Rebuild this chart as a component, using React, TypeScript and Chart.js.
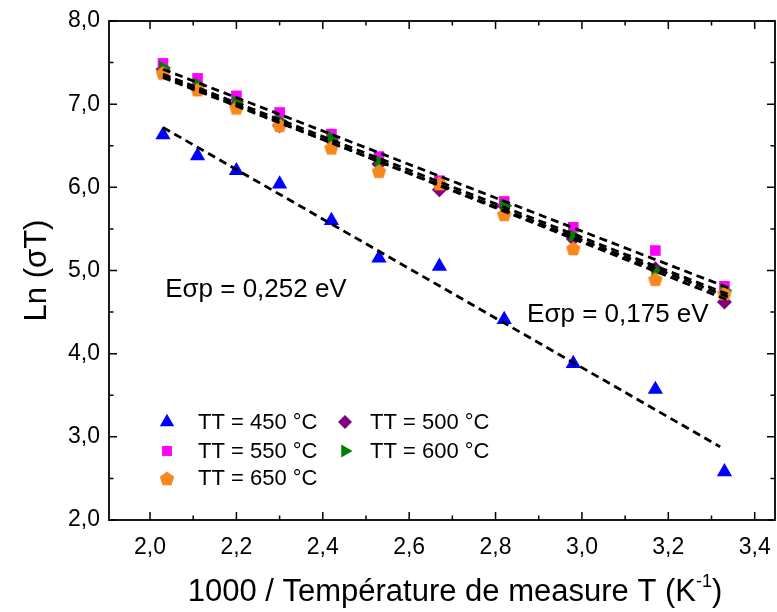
import React, { useEffect, useRef } from 'react';
import { Chart, registerables } from 'chart.js';
import { drawPoint } from 'chart.js/helpers';

Chart.register(...registerables);

// ---- data ----
const xValues = [2.03, 2.11, 2.2, 2.3, 2.42, 2.53, 2.67, 2.82, 2.98, 3.17, 3.33];
const tt450 = [6.63, 6.38, 6.2, 6.04, 5.6, 5.15, 5.05, 4.41, 3.88, 3.57, 2.58];
const tt500 = [7.42, 7.22, 7.0, 6.74, 6.57, 6.28, 5.97, 5.78, 5.38, 5.02, 4.62];
const tt550 = [7.49, 7.31, 7.1, 6.9, 6.64, 6.37, 6.08, 5.83, 5.52, 5.24, 4.81];
const tt600 = [7.44, 7.24, 7.03, 6.8, 6.6, 6.31, 6.04, 5.78, 5.42, 5.0, 4.76];
const tt650 = [7.38, 7.18, 6.96, 6.75, 6.48, 6.2, 6.05, 5.68, 5.27, 4.9, 4.73];

const fitX450 = [2.03, 3.32];
const fit450 = [6.72, 2.88];
const fitX = [2.03, 3.345];
const fit500 = [7.34, 4.63];
const fit550 = [7.42, 4.78];
const fit600 = [7.36, 4.7];
const fit650 = [7.32, 4.67];

const xTickValues = [2.0, 2.2, 2.4, 2.6, 2.8, 3.0, 3.2, 3.4];
const xTickLabels = ['2,0', '2,2', '2,4', '2,6', '2,8', '3,0', '3,2', '3,4'];
const xMinorTicks = [2.1, 2.3, 2.5, 2.7, 2.9, 3.1, 3.3];
const yTickValues = [2, 3, 4, 5, 6, 7, 8];
const yTickLabels = ['2,0', '3,0', '4,0', '5,0', '6,0', '7,0', '8,0'];
const yMinorTicks = [2.5, 3.5, 4.5, 5.5, 6.5, 7.5];

const seriesLabels = ['TT = 450 °C', 'TT = 500 °C', 'TT = 550 °C', 'TT = 600 °C', 'TT = 650 °C'];
const annotTexts = ['Eσp = 0,252 eV', 'Eσp = 0,175 eV'];
const annotX = [2.035, 2.873];
const annotY = [4.77, 4.47];

const xTitle = '1000 / Température de measure T (K';
const xTitleSup = '-1';
const yTitle = 'Ln (σT)';

const FONT = 'Arial, "Liberation Sans", sans-serif';

function makePentagon(color: string, r: number) {
  const c = document.createElement('canvas');
  const s = Math.ceil(r * 2 + 2);
  c.width = s;
  c.height = s;
  const ctx = c.getContext('2d')!;
  ctx.fillStyle = color;
  ctx.beginPath();
  for (let i = 0; i < 5; i++) {
    const a = -Math.PI / 2 + (i * 2 * Math.PI) / 5;
    const px = s / 2 + r * Math.cos(a);
    const py = s / 2 + 1 + r * Math.sin(a);
    if (i === 0) ctx.moveTo(px, py);
    else ctx.lineTo(px, py);
  }
  ctx.closePath();
  ctx.fill();
  return c;
}

const pts = (xs: number[], ys: number[]) => xs.map((x, i) => ({ x, y: ys[i] }));

export default function App() {
  const ref = useRef<HTMLCanvasElement>(null);

  useEffect(() => {
    const pent = makePentagon('#f7881f', 7.6);
    const styles = [
      { label: seriesLabels[0], data: tt450, color: '#0000ff', pointStyle: 'triangle', radius: 8.8, rotation: 0, order: 6 },
      { label: seriesLabels[1], data: tt500, color: '#800080', pointStyle: 'rectRot', radius: 7.5, rotation: 0, order: 5 },
      { label: seriesLabels[2], data: tt550, color: '#ff00ff', pointStyle: 'rect', radius: 7.5, rotation: 0, order: 4 },
      { label: seriesLabels[3], data: tt600, color: '#008000', pointStyle: 'triangle', radius: 8, rotation: 90, order: 3 },
      { label: seriesLabels[4], data: tt650, color: '#f7881f', pointStyle: pent as any, radius: 7.6, rotation: 0, order: 2 },
    ];

    const scatterSets = styles.map((s) => ({
      label: s.label,
      data: pts(xValues, s.data),
      backgroundColor: s.color,
      borderColor: s.color,
      borderWidth: 0,
      pointStyle: s.pointStyle,
      pointRadius: s.radius,
      pointRotation: s.rotation,
      showLine: false,
      order: s.order,
    }));

    const fitLine = (xs: number[], ys: number[]) => ({
      label: 'fit',
      data: pts(xs, ys),
      borderColor: '#000',
      borderWidth: 2.8,
      borderDash: [8, 5],
      pointRadius: 0,
      showLine: true,
      order: 0,
    });

    const fitSets = [
      fitLine(fitX450, fit450),
      fitLine(fitX, fit500),
      fitLine(fitX, fit550),
      fitLine(fitX, fit600),
      fitLine(fitX, fit650),
    ];

    const decor = {
      id: 'decor',
      afterDatasetsDraw(chart: any) {
        const { ctx, chartArea: a, scales } = chart;
        const xs = scales.x;
        const ys = scales.y;
        ctx.save();
        // frame
        ctx.strokeStyle = '#000';
        ctx.lineWidth = 1.8;
        ctx.strokeRect(a.left, a.top, a.right - a.left, a.bottom - a.top);
        // ticks (inward)
        ctx.lineWidth = 1.5;
        ctx.beginPath();
        const major = 8;
        const minor = 4.5;
        xTickValues.forEach((v) => {
          const px = xs.getPixelForValue(v);
          ctx.moveTo(px, a.bottom); ctx.lineTo(px, a.bottom - major);
          ctx.moveTo(px, a.top); ctx.lineTo(px, a.top + major);
        });
        xMinorTicks.forEach((v) => {
          const px = xs.getPixelForValue(v);
          ctx.moveTo(px, a.bottom); ctx.lineTo(px, a.bottom - minor);
          ctx.moveTo(px, a.top); ctx.lineTo(px, a.top + minor);
        });
        yTickValues.forEach((v) => {
          const py = ys.getPixelForValue(v);
          ctx.moveTo(a.left, py); ctx.lineTo(a.left + major, py);
          ctx.moveTo(a.right, py); ctx.lineTo(a.right - major, py);
        });
        yMinorTicks.forEach((v) => {
          const py = ys.getPixelForValue(v);
          ctx.moveTo(a.left, py); ctx.lineTo(a.left + minor, py);
          ctx.moveTo(a.right, py); ctx.lineTo(a.right - minor, py);
        });
        ctx.stroke();

        // annotations
        ctx.fillStyle = '#000';
        ctx.font = `26px ${FONT}`;
        ctx.textBaseline = 'middle';
        ctx.textAlign = 'left';
        annotTexts.forEach((t, i) => {
          ctx.fillText(t, xs.getPixelForValue(annotX[i]), ys.getPixelForValue(annotY[i]));
        });

        // legend (two columns)
        const cols = [a.left + 58, a.left + 236];
        const textCols = [a.left + 89, a.left + 261];
        const rows = [a.top + 401, a.top + 430, a.top + 457];
        const place = [
          [0, 0], [1, 0], [0, 1], [1, 1], [0, 2],
        ];
        ctx.font = `22px ${FONT}`;
        styles.forEach((s, i) => {
          const [c, r] = place[i];
          const mx = cols[c];
          const my = rows[r];
          ctx.fillStyle = s.color;
          ctx.strokeStyle = s.color;
          drawPoint(ctx, { pointStyle: s.pointStyle, rotation: s.rotation, radius: s.radius - 0.5, borderWidth: 0 } as any, mx, my);
          ctx.fillStyle = '#000';
          ctx.fillText(s.label, textCols[c], my + 1);
        });

        // x axis title with superscript
        const mainFont = `31px ${FONT}`;
        const supFont = `18px ${FONT}`;
        ctx.textBaseline = 'alphabetic';
        ctx.font = mainFont;
        const w1 = ctx.measureText(xTitle).width;
        const w3 = ctx.measureText(')').width;
        ctx.font = supFont;
        const w2 = ctx.measureText(xTitleSup).width;
        const total = w1 + w2 + w3;
        const cx = 455;
        let tx = cx - total / 2;
        const base = 601;
        ctx.font = mainFont;
        ctx.fillText(xTitle, tx, base);
        tx += w1;
        ctx.font = supFont;
        ctx.fillText(xTitleSup, tx, base - 14);
        tx += w2;
        ctx.font = mainFont;
        ctx.fillText(')', tx, base);
        ctx.restore();
      },
    };

    const chart = new Chart(ref.current!, {
      type: 'scatter',
      data: { datasets: [...fitSets, ...scatterSets] as any },
      options: {
        animation: false,
        responsive: false,
        devicePixelRatio: 1,
        layout: { autoPadding: false, padding: { top: 21, right: 2, left: 0, bottom: 0 } },
        plugins: { legend: { display: false }, tooltip: { enabled: false } },
        scales: {
          x: {
            type: 'linear',
            min: 1.905,
            max: 3.447,
            grid: { display: false, drawTicks: false },
            border: { display: false },
            afterBuildTicks: (s: any) => {
              s.ticks = xTickValues.map((v) => ({ value: v }));
            },
            afterFit: (s: any) => {
              s.height = 92;
              s.paddingLeft = 0;
              s.paddingRight = 0;
            },
            ticks: {
              autoSkip: false,
              maxRotation: 0,
              padding: 14,
              color: '#000',
              font: { family: FONT, size: 23 },
              callback: (_v: any, i: number) => xTickLabels[i],
            },
          },
          y: {
            type: 'linear',
            min: 2,
            max: 8,
            grid: { display: false, drawTicks: false },
            border: { display: false },
            afterBuildTicks: (s: any) => {
              s.ticks = yTickValues.map((v) => ({ value: v }));
            },
            afterFit: (s: any) => {
              s.width = 109;
              s.paddingTop = 0;
              s.paddingBottom = 0;
            },
            ticks: {
              autoSkip: false,
              padding: 9,
              color: '#000',
              font: { family: FONT, size: 23 },
              callback: (_v: any, i: number) => yTickLabels[i],
            },
            title: {
              display: true,
              text: yTitle,
              color: '#000',
              font: { family: FONT, size: 31 },
              padding: { top: 19, bottom: 0 },
            },
          },
        },
      },
      plugins: [decor],
    });
    return () => chart.destroy();
  }, []);

  return (
    <div style={{ position: 'absolute', left: 0, top: 0, width: 777, height: 612, background: '#fff' }}>
      <canvas ref={ref} width={777} height={612} style={{ width: 777, height: 612 }} />
    </div>
  );
}
